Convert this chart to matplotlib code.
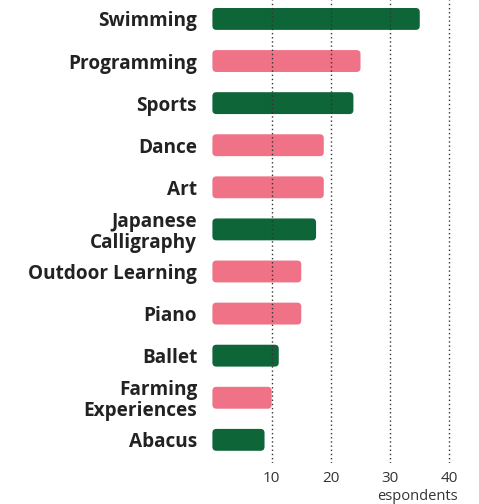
import matplotlib
matplotlib.use("Agg")
import matplotlib.pyplot as plt
from matplotlib.patches import FancyBboxPatch

categories = ["Swimming", "Programming", "Sports", "Dance", "Art",
              "Japanese\nCalligraphy", "Outdoor Learning", "Piano", "Ballet",
              "Farming\nExperiences", "Abacus"]
values = [35, 25, 23.8, 18.8, 18.8, 17.5, 15, 15, 11.2, 10, 8.8]
groups = ["g", "p", "g", "p", "p", "g", "p", "p", "g", "p", "g"]
xticks = [10, 20, 30, 40]
xlabel = "espondents"

colors = {"g": "#0E6538", "p": "#F07287"}

plt.rcParams['font.family'] = ['Open Sans', 'DejaVu Sans']

W, H = 479, 504
fig = plt.figure(figsize=(W / 100, H / 100), dpi=100)
ax_left = 212.4 / W
ax_bottom = (H - 463) / H
ax = fig.add_axes([ax_left, ax_bottom, 1 - ax_left, 463 / H])

ypos = list(range(len(categories)))
bars = ax.barh(ypos, values, height=0.52, color=[colors[g] for g in groups])
ax.set_xlim(0, 45)
ax.set_ylim(10.55, -0.45)

# replace with rounded bars
x_px_per_unit = (1 - ax_left) * W / 45
y_px_per_unit = 463 / 11.0
r_px = 4
aspect = x_px_per_unit / y_px_per_unit
for b in bars:
    x, y = b.get_x(), b.get_y()
    w, h = b.get_width(), b.get_height()
    b.set_visible(False)
    p = FancyBboxPatch((x, y), w, h,
                       boxstyle=f"round,pad=0,rounding_size={r_px / x_px_per_unit}",
                       mutation_aspect=aspect,
                       facecolor=b.get_facecolor(), edgecolor="none", zorder=2)
    ax.add_patch(p)

ax.set_xticks(xticks)
ax.set_xticklabels([str(t) for t in xticks])
ax.xaxis.grid(True, linestyle=(0, (1, 2)), color="#333333", linewidth=1.0, zorder=3)
ax.set_axisbelow(False)
for s in ax.spines.values():
    s.set_visible(False)
ax.tick_params(axis="x", length=0, pad=6, labelsize=11, labelcolor="#333333")
ax.tick_params(axis="y", length=0, pad=11)
ax.set_yticks(ypos)
ax.set_yticklabels(categories, fontsize=13.7, fontweight="bold", color="#222222",
                   linespacing=1.05)

fig.text(458 / W, 1 - 497 / H, xlabel, ha="right", va="center",
         fontsize=10.5, color="#333333")

fig.savefig("out.png", dpi=100)
